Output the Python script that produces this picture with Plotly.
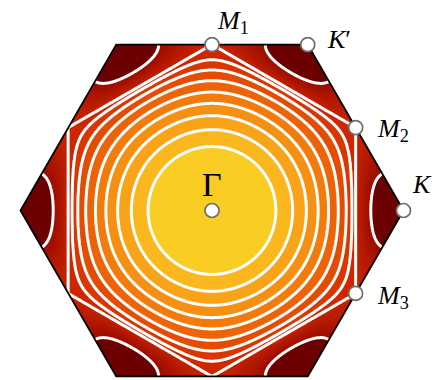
import numpy as np
import plotly.graph_objects as go

# Nearest-neighbour triangular-lattice band, plotted over the first Brillouin zone.
# Fermi contours are given by the fraction of the zone they enclose around Γ.
fermi_fillings = [0.135, 0.215, 0.295, 0.375, 0.455, 0.54, 0.62, 0.69]
pocket_filling = 0.91          # contour around the K / K' pockets

# band colours from Γ outwards
band_colors = ["#f9cd23", "#fbb81e", "#f9a418", "#f69012", "#f27b0c",
               "#ec6407", "#e44c03", "#da3601", "#cf2600"]
outer_band = ["#c62200", "#9a0b00"]   # between the van Hove hexagon and the pockets
pocket_color = "#6d0000"

point_labels = ["Γ", "<i>M</i><sub>1</sub>", "<i>K</i>′",
                "<i>M</i><sub>2</sub>", "<i>K</i>", "<i>M</i><sub>3</sub>"]

# ---- lattice geometry (a = 1) ----
KK = 4 * np.pi / 3              # Γ-K distance
AP = 2 * np.pi / np.sqrt(3)     # Γ-M distance (zone apothem)
point_kx = [0.0, 0.0, KK / 2, 3 * KK / 4, KK, 3 * KK / 4]
point_ky = [0.0, AP, AP, AP / 2, 0.0, -AP / 2]
hex_kx = [KK, KK / 2, -KK / 2, -KK, -KK / 2, KK / 2, KK]
hex_ky = [0.0, AP, AP, 0.0, -AP, -AP, 0.0]


def band(kx, ky):
    return np.cos(kx) + 2 * np.cos(kx / 2) * np.cos(np.sqrt(3) * ky / 2)


def inside(kx, ky):
    c = np.sqrt(3) / 2
    return ((np.abs(ky) <= AP) & (np.abs(c * kx + 0.5 * ky) <= AP)
            & (np.abs(c * kx - 0.5 * ky) <= AP))


# energies of the contours from the enclosed area
fx, fy = np.meshgrid(np.linspace(-KK, KK, 1400), np.linspace(-AP, AP, 1250))
f_in = band(fx, fy)[inside(fx, fy)]
e_fermi = list(np.quantile(f_in, 1 - np.array(fermi_fillings)))
e_vhs = float(band(0.0, AP))                     # saddle point at M
e_pocket = float(np.quantile(f_in, 1 - pocket_filling))
levels = np.array(e_fermi + [e_vhs, e_pocket])
n_lev = len(levels)
f_max, f_min = float(band(0.0, 0.0)), float(band(KK, 0.0))

# ---- plotting grid / axis ranges (equal scale, px per 1/a) ----
W, H = 436, 380
scale = 191.5 / KK
cx, cy = 212.0, 210.5
x_range = [-cx / scale, (W - cx) / scale]
y_range = [-(H - cy) / scale, cy / scale]

kx = np.linspace(x_range[0], x_range[1], 560)
ky = np.linspace(y_range[0], y_range[1], 490)
KX, KY = np.meshgrid(kx, ky)
F = band(KX, KY)
# monotone map so that every contour sits on an integer
Z = np.interp(-F, np.concatenate([[-f_max], -levels, [-f_min]]),
              np.arange(n_lev + 2, dtype=float))
Z_fill = np.where(inside(KX, KY), Z, np.nan)

zmax = n_lev + 1
cs = []
for i, c in enumerate(band_colors):
    cs += [[i / zmax, c], [(i + 1) / zmax - 1e-6, c]]
cs += [[(n_lev - 1) / zmax, outer_band[0]], [n_lev / zmax - 1e-6, outer_band[1]],
       [n_lev / zmax, pocket_color], [1.0, pocket_color]]

fig = go.Figure()
fig.add_trace(go.Heatmap(x=kx, y=ky, z=Z_fill, zmin=0, zmax=zmax, colorscale=cs,
                         showscale=False, zsmooth=False, hoverinfo="skip"))
fig.add_trace(go.Contour(x=kx, y=ky, z=Z, autocontour=False,
                         contours=dict(start=1, end=n_lev, size=1, coloring="none"),
                         line=dict(color="white", width=3),
                         showscale=False, hoverinfo="skip"))
fig.add_trace(go.Scatter(x=hex_kx, y=hex_ky, mode="lines",
                         line=dict(color="black", width=1.8), hoverinfo="skip"))
fig.add_trace(go.Scatter(x=point_kx, y=point_ky, mode="markers",
                         marker=dict(size=14, color="white",
                                     line=dict(color="#6e6e6e", width=1.7)),
                         hoverinfo="skip"))

# label offsets in pixels from each point
label_dx = [0, 21, 31, 37, 18, 37]
label_dy = [26, 23, 5, -2, 26, -4]
label_size = [34, 26, 26, 26, 26, 26]
for lab, x, y, dx, dy, sz in zip(point_labels, point_kx, point_ky,
                                 label_dx, label_dy, label_size):
    fig.add_annotation(x=x, y=y, xref="x", yref="y", text=lab, showarrow=False,
                       xshift=dx, yshift=dy,
                       font=dict(family="Liberation Serif", size=sz, color="black"))

fig.update_layout(width=W, height=H, margin=dict(l=0, r=0, t=0, b=0),
                  paper_bgcolor="white", plot_bgcolor="white", showlegend=False,
                  xaxis=dict(range=x_range, visible=False, fixedrange=True),
                  yaxis=dict(range=y_range, visible=False, fixedrange=True))
fig.write_html("out.html")
